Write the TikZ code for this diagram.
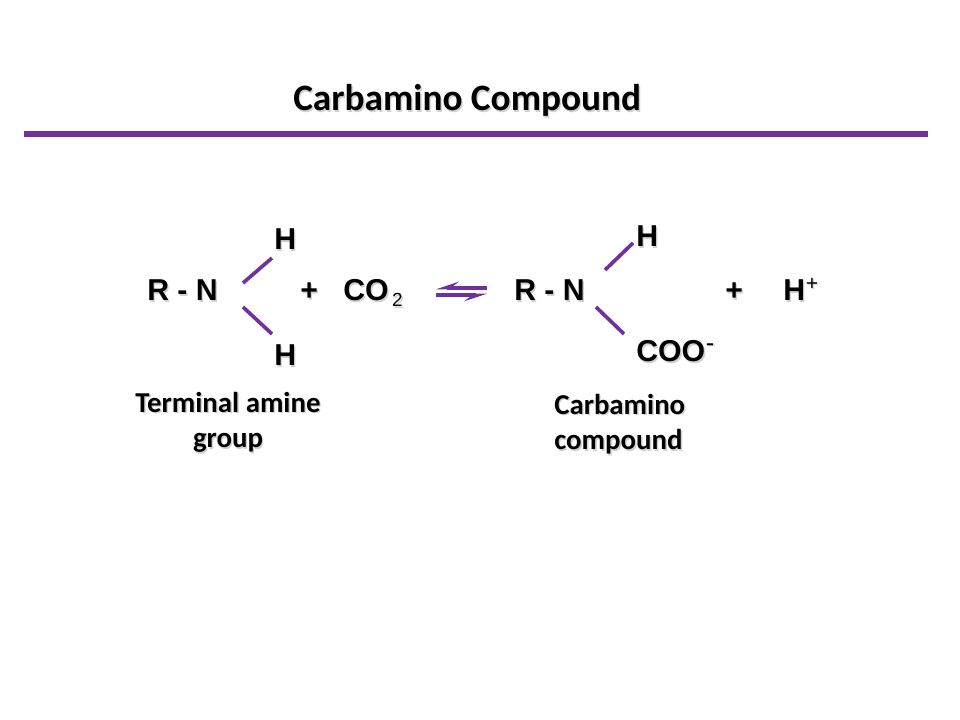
\documentclass[tikz,border=0pt]{standalone}
\usepackage{fontspec}
\usepackage{xcolor}
\setmainfont{Carlito}
\newfontfamily\chemfont{Liberation Sans}
\definecolor{bondpurple}{HTML}{7030A0}
\usetikzlibrary{arrows.meta}
\newcommand{\shtext}[1]{\leavevmode\rlap{\raisebox{-1pt}{\kern1pt\textcolor{black!18}{#1}}}#1}
\newcommand{\chemsub}[1]{\kern2.5pt\raisebox{-4pt}{\normalfont\chemfont\fontsize{13.5}{13.5}\selectfont #1}}
\newcommand{\chemsup}[1]{\kern0.5pt\raisebox{7.5pt}{\normalfont\chemfont\fontsize{15}{15}\selectfont #1}}
\tikzset{>=stealth}
\tikzset{
  chem/.style={anchor=base west,inner sep=0pt,font=\chemfont\bfseries\fontsize{21.5}{26}\selectfont},
  caption/.style={inner sep=0pt,font=\bfseries\fontsize{20.5}{25.6}\selectfont},
  bond/.style={line width=2.6pt,bondpurple},
  rulebar/.style={line width=4.3pt,bondpurple},
  halfarrow/.style={line width=2.5pt,bondpurple,-{Stealth[harpoon,swap,length=13.5pt,width=9pt,inset=6pt]}}
}
\begin{document}
\begin{tikzpicture}[x=0.025cm,y=-0.025cm]
\useasboundingbox (0,0) rectangle (960,720);
%%%% title
\node[anchor=base west,inner sep=0pt,font=\bfseries\fontsize{26.5}{30}\selectfont] (title) at (293,111) {\shtext{Carbamino Compound}};
\coordinate (ruleL) at (24,134);
\coordinate (ruleR) at (928,134);
\draw[rulebar] (ruleL) -- (ruleR);
%%%% left side
\node[chem] (rnA) at (147,301) {\shtext{R - N}};
\node[chem] (hA) at (274,250) {\shtext{H}};
\node[chem] (hB) at (274,366) {\shtext{H}};
\node[chem] (plusA) at (300,301) {\shtext{+}};
\node[chem] (cotwo) at (343,301) {\shtext{CO\chemsub{2}}};
\coordinate (bondAa) at (243,283);
\coordinate (bondAb) at (272,258);
\coordinate (bondBa) at (243,307);
\coordinate (bondBb) at (272,334);
\draw[bond] (bondAa) -- (bondAb);
\draw[bond] (bondBa) -- (bondBb);
\node[caption,align=center,anchor=base] (termlabel) at (228,448) {\shtext{Terminal amine}\\\shtext{group}};
%%%% equilibrium
\coordinate (eqTopL) at (436,288);
\coordinate (eqTopR) at (487,288);
\coordinate (eqBotL) at (436,295);
\coordinate (eqBotR) at (487,295);
\draw[halfarrow] (eqTopR) -- (eqTopL);
\draw[halfarrow] (eqBotL) -- (eqBotR);
%%%% right side
\node[chem] (rnB) at (514,301) {\shtext{R - N}};
\node[chem] (hC) at (636,247) {\shtext{H}};
\node[chem] (coo) at (636,362) {\shtext{COO\chemsup{\fontsize{18}{18}\selectfont -}}};
\node[chem] (plusB) at (725,301) {\shtext{+}};
\node[chem] (hplus) at (783,301) {\shtext{H\chemsup{+}}};
\coordinate (bondCa) at (605,270);
\coordinate (bondCb) at (633,243);
\coordinate (bondDa) at (596,307);
\coordinate (bondDb) at (624,334);
\draw[bond] (bondCa) -- (bondCb);
\draw[bond] (bondDa) -- (bondDb);
\node[caption,align=left,anchor=base west] (carblabel) at (554,450) {\shtext{Carbamino}\\\shtext{compound}};
\end{tikzpicture}
\end{document}
